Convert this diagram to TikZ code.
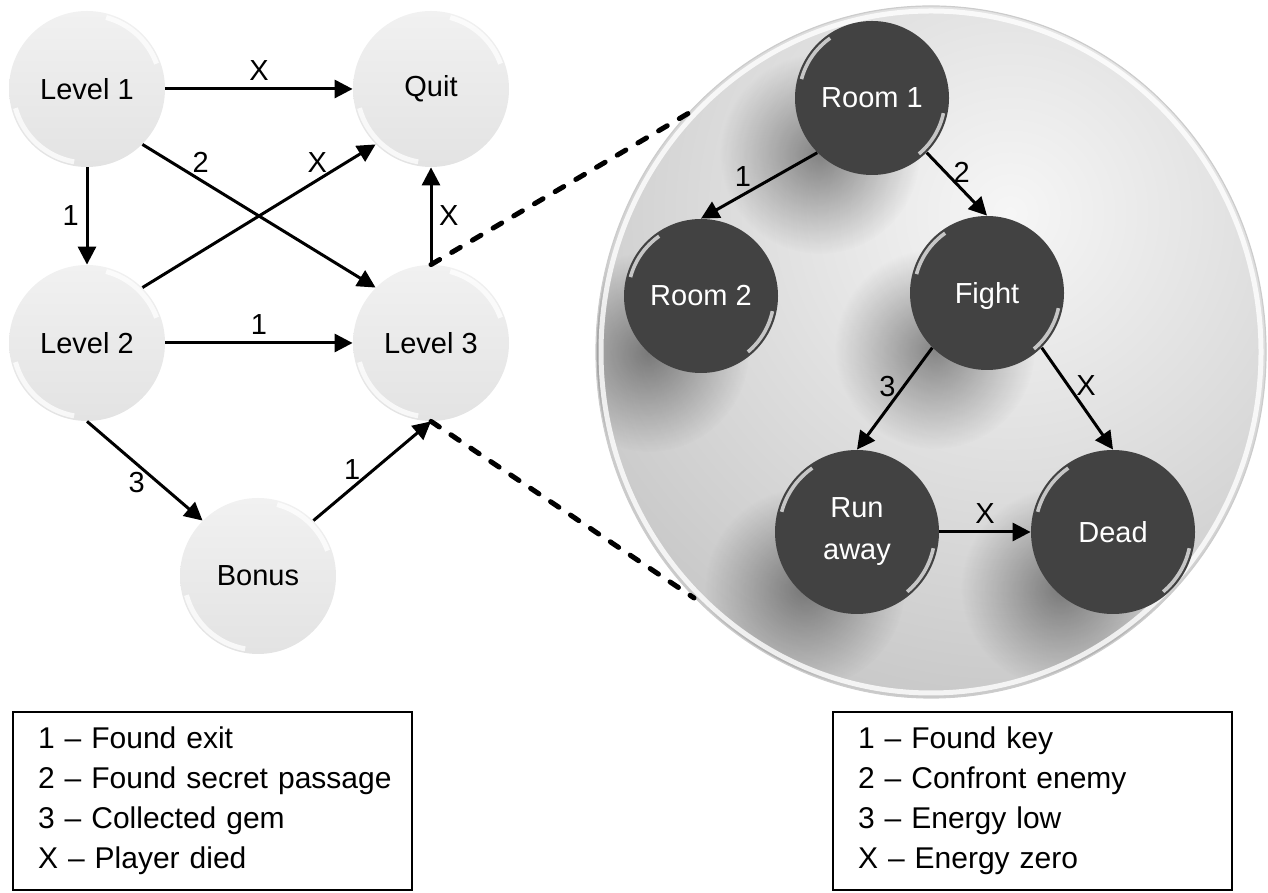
\documentclass[tikz,border=0pt]{standalone}
\usepackage{fontspec}
\setmainfont{Liberation Sans}
\usetikzlibrary{arrows.meta,backgrounds,calc,fadings}
\tikzfading[name=softshade, inner color=transparent!15, outer color=transparent!100]
\tikzset{
  lightball/.style={circle, minimum size=78pt, inner sep=0pt, top color=gray!11, bottom color=gray!22,
    path picture={
      \draw[white, line width=2.5pt, opacity=.75] (path picture bounding box.center) ++(195:37pt) arc[start angle=195, end angle=260, radius=37pt];
      \draw[white, line width=2.5pt, opacity=.75] (path picture bounding box.center) ++(20:37pt) arc[start angle=20, end angle=75, radius=37pt];}},
  darkball/.style={circle, minimum size=#1, inner sep=0pt, fill=black!74, text=white, align=center,
    font=\fontsize{14.5}{21}\selectfont,
    path picture={
      \draw[white, line width=1.8pt, opacity=.7] (path picture bounding box.center) ++(125:{#1/2-2pt}) arc[start angle=125, end angle=165, radius={#1/2-2pt}];
      \draw[white, line width=1.8pt, opacity=.7] (path picture bounding box.center) ++(-50:{#1/2-2pt}) arc[start angle=-50, end angle=-12, radius={#1/2-2pt}];}},
  darkball/.default=77pt,
  link/.style={line width=1.5pt, -{Triangle[length=9pt, width=9pt]}},
  zoomline/.style={line width=2.5pt, dash pattern=on 5pt off 7pt, line cap=round},
  legend/.style={draw, line width=1pt, anchor=south west, minimum width=199.5pt, minimum height=89pt,
    inner xsep=12.5pt, text width=174.5pt, align=left, font=\fontsize{15}{20}\selectfont}
}
\begin{document}
\begin{tikzpicture}[x=0.5pt, y=0.5pt, font=\fontsize{14.5}{17}\selectfont]
  \useasboundingbox (0,0) rectangle (1268,893);

  \node[lightball] (Level1) at (87,804) {Level 1};
  \node[lightball] (Quit) at (431,804) {Quit};
  \node[lightball] (Level2) at (87,550) {Level 2};
  \node[lightball] (Level3) at (431,550) {Level 3};
  \node[lightball] (Bonus) at (258,317) {Bonus};

  \draw[link] (Level1.east) -- node[above] {X} (Quit.west);
  \draw[link] (Level1.south) -- node[left] {1} (Level2.north);
  \draw[link] (Level1.south east) -- node[above, pos=.25] {2} (Level3.north west);
  \draw[link] (Level2.north east) -- node[above, pos=.75] {X} (Quit.south west);
  \draw[link] (Level2.east) -- node[above] {1} (Level3.west);
  \draw[link] (Level3.north) -- node[right] {X} (Quit.south);
  \draw[link] (Level2.south) -- node[below, pos=.43] {3} (Bonus.north west);
  \draw[link] (Bonus.north east) -- node[above, pos=.33] {1} (Level3.south);

  \node[darkball] (Room1) at (872,795) {Room 1};
  \node[darkball] (Room2) at (701,597) {Room 2};
  \node[darkball, text depth=0pt] (Fight) at (987,600) {Fight};
  \node[darkball=82pt] (Runaway) at (857,361) {Run\\away};
  \node[darkball=82pt] (Dead) at (1113,361) {Dead};

  \draw[link] (Room1.south west) -- node[above, pos=.64] {1} (Room2.north);
  \draw[link] (Room1.south east) -- node[right, pos=.31] {2} (Fight.north);
  \draw[link] (Fight.south west) -- node[left, pos=.38] {3} (Runaway.north);
  \draw[link] (Fight.south east) -- node[right, pos=.37] {X} (Dead.north);
  \draw[link] (Runaway.east) -- node[above] {X} (Dead.west);

  \coordinate (zoomtop) at (694,783);
  \coordinate (zoombot) at (694,295);
  \draw[zoomline] (Level3.north) -- (zoomtop);
  \draw[zoomline] (Level3.south) -- (zoombot);

  \node[legend] (keyleft) at (12,2) {\begin{tabular}{@{}l@{}}1 -- Found exit\\2 -- Found secret passage\\3 -- Collected gem\\X -- Player died\end{tabular}};
  \node[legend] (keyright) at (832,2) {\begin{tabular}{@{}l@{}}1 -- Found key\\2 -- Confront enemy\\3 -- Energy low\\X -- Energy zero\end{tabular}};

  \begin{scope}[on background layer]
    \begin{scope}
      \clip (931,541) ellipse [x radius=335, y radius=346];
      \shade[inner color=gray!7, outer color=gray!50] (1010,680) circle (600);
      \foreach \n in {Room1,Room2,Fight,Runaway,Dead}
        \fill[black, opacity=.5, path fading=softshade] ($(\n)+(-26pt,-28pt)$) circle (50pt);
    \end{scope}
    \draw[white, line width=2.5pt, opacity=.8] (931,541) ellipse [x radius=330, y radius=341];
    \draw[gray!40, line width=.6pt] (931,541) ellipse [x radius=335, y radius=346];
  \end{scope}
\end{tikzpicture}
\end{document}
